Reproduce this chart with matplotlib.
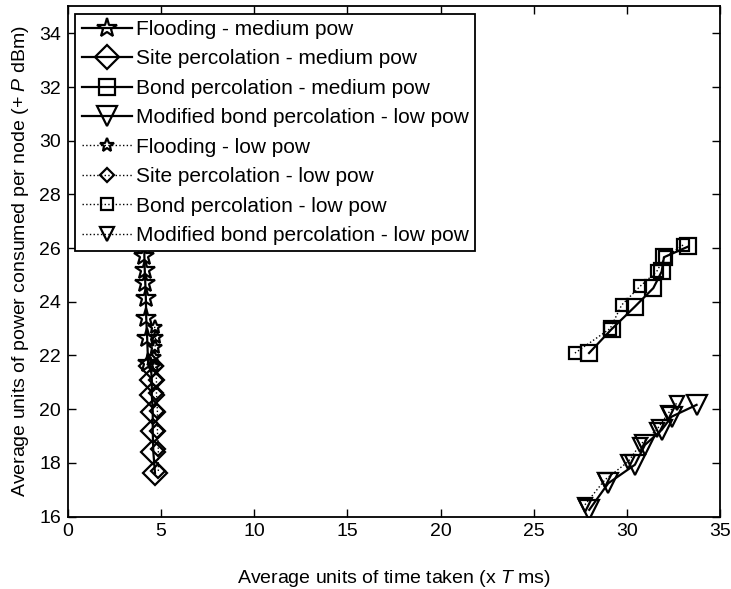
import matplotlib
matplotlib.use("Agg")
import matplotlib.pyplot as plt

plt.rcParams['font.family'] = ['Liberation Sans', 'DejaVu Sans']
plt.rcParams['mathtext.fontset'] = 'custom'
plt.rcParams['mathtext.rm'] = 'Liberation Sans'
plt.rcParams['mathtext.it'] = 'Liberation Sans:italic'

# medium power runs
flood_med_x = [4.10, 4.10, 4.12, 4.15, 4.18, 4.20, 4.25, 4.30]
flood_med_y = [26.2, 25.69, 25.19, 24.69, 24.14, 23.39, 22.65, 21.71]
site_med_x = [4.67, 4.58, 4.55, 4.55, 4.50, 4.50, 4.45]
site_med_y = [17.62, 18.42, 19.17, 19.91, 20.53, 21.09, 21.59]
bond_med_x = [27.97, 29.18, 30.43, 31.42, 31.87, 31.99, 33.30]
bond_med_y = [22.09, 22.98, 23.82, 24.51, 25.13, 25.66, 26.06]
mod_med_x = [27.98, 29.00, 30.43, 30.97, 31.87, 32.40, 33.74]
mod_med_y = [16.25, 17.24, 17.93, 18.67, 19.23, 19.72, 20.16]

# low power runs
flood_low_x = [4.65, 4.70, 4.68, 4.62, 4.60]
flood_low_y = [23.07, 22.70, 22.33, 21.95, 21.59]
site_low_x = [4.85, 4.85, 4.80, 4.80, 4.75, 4.75, 4.70]
site_low_y = [17.70, 18.50, 19.20, 19.95, 20.60, 21.10, 21.60]
bond_low_x = [27.21, 29.10, 29.72, 30.70, 31.60, 32.04, 33.03]
bond_low_y = [22.09, 23.00, 23.88, 24.57, 25.13, 25.66, 26.12]
mod_low_x = [27.75, 28.82, 30.08, 30.70, 31.60, 32.22, 32.67]
mod_low_y = [16.44, 17.37, 18.05, 18.67, 19.23, 19.85, 20.22]

labels = ["Flooding - medium pow", "Site percolation - medium pow",
          "Bond percolation - medium pow", "Modified bond percolation - low pow",
          "Flooding - low pow", "Site percolation - low pow",
          "Bond percolation - low pow", "Modified bond percolation - low pow"]

fig = plt.figure(figsize=(7.31, 5.89), dpi=100)
ax = fig.add_axes([0.093, 0.123, 0.892, 0.866])

med = dict(color='black', lw=1.6, mfc='none', mec='black', mew=1.6)
low = dict(color='black', lw=1.0, ls=':', mfc='none', mec='black', mew=1.6)

ax.plot(flood_med_x, flood_med_y, marker='*', ms=15, label=labels[0], **med)
ax.plot(site_med_x, site_med_y, marker='D', ms=12, label=labels[1], **med)
ax.plot(bond_med_x, bond_med_y, marker='s', ms=12, label=labels[2], **med)
ax.plot(mod_med_x, mod_med_y, marker='v', ms=15, label=labels[3], **med)
ax.plot(flood_low_x, flood_low_y, marker='*', ms=10, label=labels[4], **low)
ax.plot(site_low_x, site_low_y, marker='D', ms=7, label=labels[5], **low)
ax.plot(bond_low_x, bond_low_y, marker='s', ms=8, label=labels[6], **low)
ax.plot(mod_low_x, mod_low_y, marker='v', ms=10, label=labels[7], **low)

ax.set_xlim(0, 35)
ax.set_ylim(16, 35)
ax.set_xticks(range(0, 36, 5))
ax.set_yticks(range(16, 35, 2))
ax.tick_params(direction='in', top=True, right=True, length=6, width=1,
               labelsize=14, pad=5)
for s in ax.spines.values():
    s.set_linewidth(1.3)

ax.set_xlabel("Average units of time taken (x $T$ ms)", fontsize=14, labelpad=20)
ax.set_ylabel("Average units of power consumed per node (+ $P$ dBm)", fontsize=14,
              labelpad=6)

leg = ax.legend(loc='upper left', fontsize=15, frameon=True, fancybox=False,
                edgecolor='black', framealpha=1, handlelength=2.4,
                handletextpad=0.2, labelspacing=0.5, borderpad=0.3,
                borderaxespad=0.35)
leg.get_frame().set_linewidth(1.3)

fig.savefig("out.png", dpi=100)
